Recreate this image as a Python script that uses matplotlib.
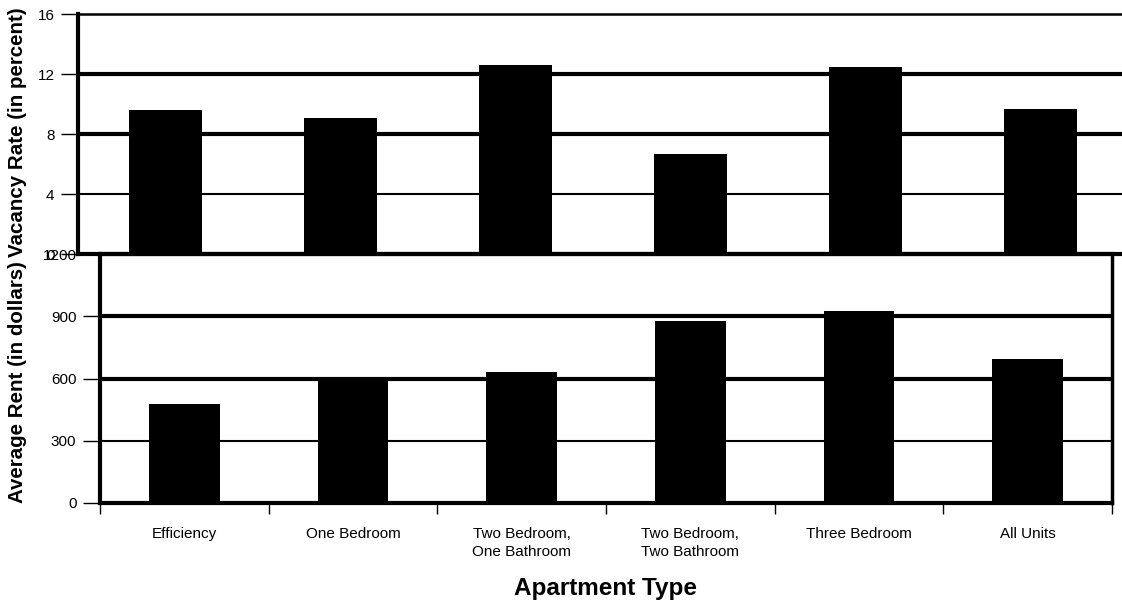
import numpy as np
import matplotlib.pyplot as plt

plt.rcParams['font.family'] = ['Liberation Sans', 'DejaVu Sans']

categories = ['Efficiency', 'One Bedroom', 'Two Bedroom,\nOne Bathroom',
              'Two Bedroom,\nTwo Bathroom', 'Three Bedroom', 'All Units']
vacancy = [9.6, 9.1, 12.6, 6.7, 12.5, 9.7]
rent = [478, 603, 629, 875, 927, 693]
vacancy_ticks = [0, 4, 8, 12, 16]
rent_ticks = [0, 300, 600, 900, 1200]

W, H = 1122, 606
fig = plt.figure(figsize=(W / 100, H / 100), dpi=100)

x = np.arange(len(categories))

# bottom panel: average rent
ax2 = fig.add_axes([100 / W, 1 - 503 / H, 1012 / W, 249 / H])
ax2.set_xlim(-0.5, 5.5)
ax2.set_ylim(0, 1200)
for v, lw in [(300, 1.5), (600, 3), (900, 3)]:
    ax2.axhline(v, color='black', lw=lw, zorder=1)
ax2.bar(x, rent, width=0.42, color='black', zorder=2)
ax2.set_yticks(rent_ticks)
ax2.set_yticklabels([str(t) for t in rent_ticks], fontsize=11)
# ticks on category boundaries, labels centred under the bars
ax2.set_xticks(np.arange(-0.5, 6, 1))
ax2.set_xticklabels([])
ax2.set_xticks(x, minor=True)
ax2.set_xticklabels(categories, minor=True, fontsize=11, ha='center',
                    linespacing=1.4)
ax2.tick_params(axis='x', which='major', direction='out', length=8, width=1, bottom=True)
ax2.tick_params(axis='x', which='minor', length=0, pad=17)
ax2.tick_params(axis='y', direction='out', length=12, width=1, pad=5)
for s in ['left', 'bottom']:
    ax2.spines[s].set_linewidth(3)
ax2.spines['right'].set_linewidth(2.5)
ax2.spines['top'].set_linewidth(3)
ax2.set_xlabel('Apartment Type', fontsize=17.5, fontweight='bold', labelpad=13)

# top panel: vacancy rate
ax1 = fig.add_axes([78 / W, 1 - 254 / H, 1050 / W, 240 / H])
ax1.patch.set_alpha(0)
ax1.set_xlim(-0.5, 5.5)
ax1.set_ylim(0, 16)
for v, lw in [(4, 1.5), (8, 3), (12, 3)]:
    ax1.axhline(v, color='black', lw=lw, zorder=1)
ax1.bar(x, vacancy, width=0.42, color='black', zorder=2)
ax1.set_yticks(vacancy_ticks)
ax1.set_yticklabels([str(t) for t in vacancy_ticks], fontsize=11)
ax1.set_xticks([])
ax1.tick_params(axis='y', direction='out', length=12, width=1, pad=5)
ax1.spines['left'].set_linewidth(3)
ax1.spines['bottom'].set_linewidth(3)
ax1.spines['top'].set_linewidth(1.8)
ax1.spines['right'].set_visible(False)

fig.text(18 / W, 1 - 132 / H, 'Vacancy Rate (in percent)', rotation=90,
         ha='center', va='center', fontsize=14.8, fontweight='bold')
fig.text(18 / W, 1 - 382 / H, 'Average Rent (in dollars)', rotation=90,
         ha='center', va='center', fontsize=14.8, fontweight='bold')

fig.savefig('out.png', dpi=100)
